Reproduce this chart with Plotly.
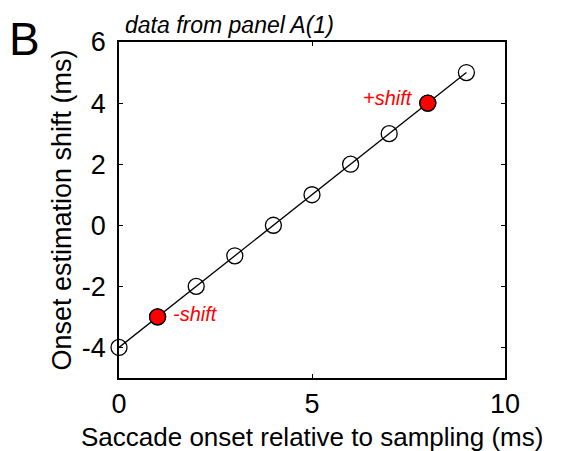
import plotly.graph_objects as go

# data
onset = [0, 1, 2, 3, 4, 5, 6, 7, 8, 9]
shift = [-4, -3, -2, -1, 0, 1, 2, 3, 4, 5]
red_idx = [1, 8]
red_labels = ['-shift', '+shift']
x_ticks = [0, 5, 10]
y_ticks = [-4, -2, 0, 2, 4, 6]

font = 'Liberation Sans, Arial, sans-serif'

fig = go.Figure()
fig.add_trace(go.Scatter(
    x=onset, y=shift,
    mode='lines+markers',
    line=dict(color='black', width=1.3),
    marker=dict(size=16, symbol='circle-open', color='black', line=dict(width=1.3)),
    cliponaxis=False,
    showlegend=False,
))
fig.add_trace(go.Scatter(
    x=[onset[i] for i in red_idx],
    y=[shift[i] for i in red_idx],
    mode='markers',
    marker=dict(size=16, color='red', line=dict(color='black', width=1.3)),
    cliponaxis=False,
    showlegend=False,
))

# red labels next to the filled points
fig.add_annotation(x=onset[1], y=shift[1], text='<i>' + red_labels[0] + '</i>',
                   showarrow=False, xanchor='left', xshift=13, yshift=3,
                   font=dict(color='red', size=20, family=font))
fig.add_annotation(x=onset[8], y=shift[8], text='<i>' + red_labels[1] + '</i>',
                   showarrow=False, xanchor='right', xshift=-13, yshift=5,
                   font=dict(color='red', size=20, family=font))

fig.add_annotation(x=0.01, y=1.0, xref='paper', yref='paper', yanchor='bottom',
                   xanchor='left', showarrow=False, yshift=2,
                   text='<i>data from panel A(1)</i>',
                   font=dict(size=23, color='black', family=font))
fig.add_annotation(x=-0.29, y=1.0, xref='paper', yref='paper', yanchor='middle',
                   xanchor='left', showarrow=False, yshift=3,
                   text='B', font=dict(size=46, color='black', family=font))
# x axis title placed by hand so the plot area keeps its size
fig.add_annotation(x=0.5, y=0, xref='paper', yref='paper', yanchor='middle',
                   xanchor='center', showarrow=False, yshift=-59,
                   text='Saccade onset relative to sampling (ms)',
                   font=dict(size=26, color='black', family=font))

axis = dict(showline=True, linecolor='black', linewidth=1.5, mirror='ticks',
            ticks='inside', ticklen=4, tickcolor='black', showgrid=False,
            zeroline=False, tickfont=dict(size=27, color='black', family=font))
fig.update_xaxes(range=[0, 10], tickvals=x_ticks, ticktext=[str(v) for v in x_ticks],
                 ticklabelstandoff=1, automargin=False, **axis)
fig.update_yaxes(range=[-5, 6], tickvals=y_ticks, ticktext=[str(v) for v in y_ticks],
                 ticklabelstandoff=6, automargin=False,
                 title=dict(text='Onset estimation shift (ms)',
                            font=dict(size=27, color='black', family=font), standoff=2),
                 **axis)

# page body keeps an 8px margin, so the figure is shifted 8px right and down
fig.update_layout(width=550, height=443,
                  margin=dict(l=111, r=53, t=34, b=73),
                  plot_bgcolor='white', paper_bgcolor='white')
fig.write_html('out.html')
